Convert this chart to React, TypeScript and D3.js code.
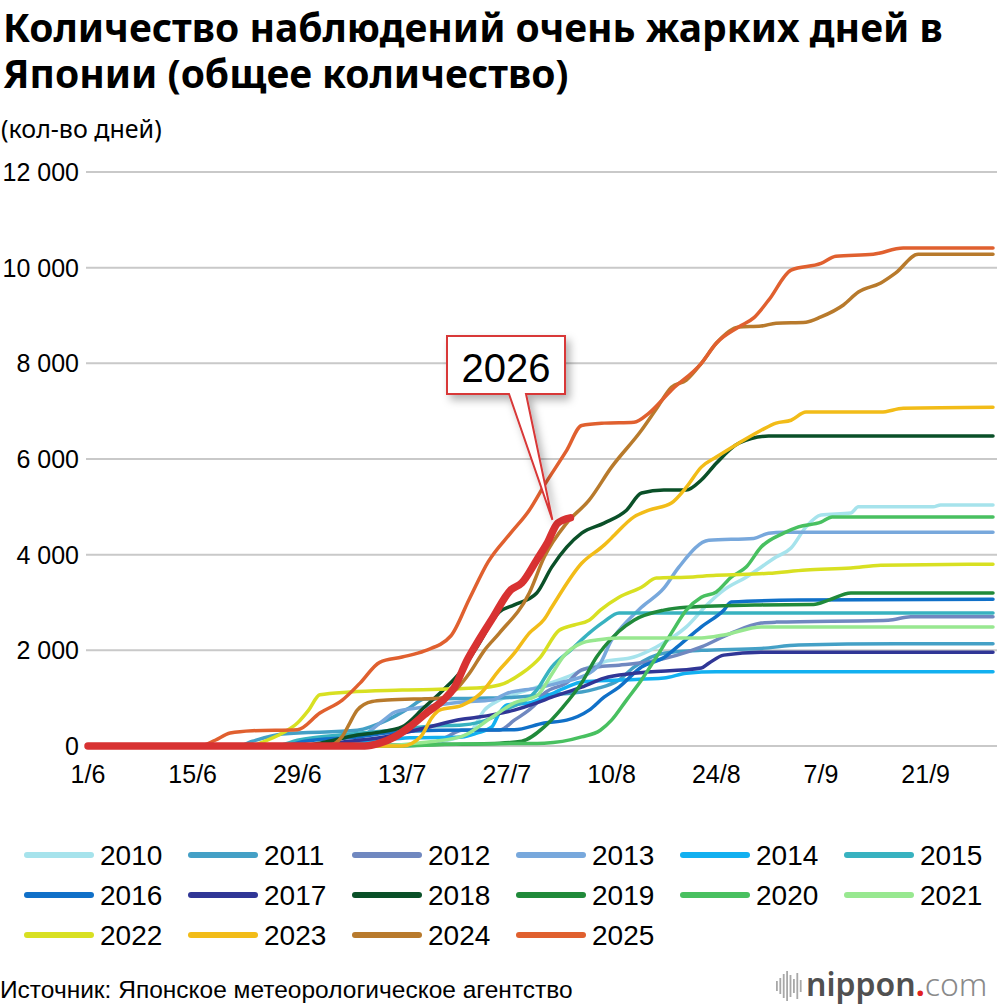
import React, { useRef, useEffect } from "react";
import * as d3 from "d3";

// [days since 1 June, cumulative number of observations]
type Pt = [number, number];

const years = ["2010", "2011", "2012", "2013", "2014", "2015", "2016", "2017", "2018", "2019", "2020", "2021", "2022", "2023", "2024", "2025"];

const s2010: Pt[] = [[0, 0], [42, 0], [48, 120], [51, 270], [53, 750], [55, 960], [58, 1130], [61, 1275], [64, 1440], [67, 1650], [69, 1760], [73, 1860], [76, 2070], [80, 2490], [83, 2990], [85, 3260], [88, 3530], [92, 3950], [94, 4140], [96, 4580], [98, 4830], [102, 4870], [103, 5000], [113, 5000], [114, 5040], [121, 5040]];
const s2011: Pt[] = [[0, 0], [20, 0], [22, 100], [26, 250], [36, 330], [40, 540], [43, 800], [45, 980], [52, 1000], [57, 1020], [61, 1070], [66, 1130], [68, 1200], [71, 1380], [73, 1650], [77, 1940], [82, 2000], [90, 2040], [95, 2110], [108, 2140], [121, 2140]];
const s2012: Pt[] = [[0, 0], [42, 0], [46, 60], [48, 190], [50, 330], [55, 330], [57, 540], [60, 900], [61, 1100], [64, 1320], [66, 1590], [68, 1650], [71, 1690], [75, 1760], [82, 2070], [86, 2360], [90, 2570], [92, 2590], [107, 2630], [110, 2700], [121, 2700]];
const s2013: Pt[] = [[0, 0], [34, 0], [36, 120], [38, 350], [40, 600], [41, 710], [45, 815], [50, 920], [54, 960], [56, 1100], [60, 1210], [63, 1320], [67, 1520], [68.5, 1730], [70, 2215], [71, 2420], [74, 2900], [77, 3300], [79, 3740], [83, 4300], [89, 4340], [91, 4450], [93, 4470], [121, 4470]];
const s2014: Pt[] = [[0, 0], [30, 0], [38, 100], [43, 170], [50, 190], [52, 270], [54, 400], [55, 690], [56, 860], [59, 900], [61, 1020], [64, 1230], [66, 1340], [71, 1380], [77, 1420], [80, 1520], [84, 1550], [121, 1550]];
const s2015: Pt[] = [[0, 0], [25, 0], [28, 120], [35, 250], [42, 350], [46, 420], [50, 440], [54, 590], [55, 690], [60, 1170], [62, 1650], [64.5, 2000], [67, 2360], [69, 2600], [71, 2780], [121, 2780]];
const s2016: Pt[] = [[0, 0], [26, 0], [29, 100], [36, 190], [41, 290], [47, 330], [57, 340], [61, 480], [64, 540], [67, 750], [69, 1020], [71, 1230], [74, 1650], [77, 1850], [79, 2100], [82, 2490], [85, 2840], [86, 3010], [95, 3050], [121, 3070]];
const s2017: Pt[] = [[0, 0], [28, 0], [35, 100], [40, 200], [45, 375], [50, 560], [52, 600], [57, 750], [60, 900], [62, 1020], [66, 1230], [69, 1420], [73, 1520], [82, 1630], [83, 1730], [85, 1900], [90, 1960], [121, 1960]];
const s2018: Pt[] = [[0, 0], [28, 0], [31, 60], [36, 230], [39, 290], [42, 400], [45, 815], [47.5, 1170], [50, 1590], [52, 2070], [55, 2800], [57, 2950], [60, 3200], [62, 3740], [66, 4450], [69, 4660], [72, 4930], [74, 5290], [77, 5350], [80, 5350], [82, 5560], [84, 5910], [87, 6330], [91, 6480], [121, 6480]];
const s2019: Pt[] = [[0, 0], [30, 0], [45, 30], [55, 60], [58, 100], [61, 400], [63.5, 815], [66, 1320], [68, 1860], [69, 2070], [71, 2400], [73, 2630], [77, 2840], [80, 2900], [90, 2950], [97, 2960], [99, 3050], [102, 3200], [121, 3200]];
const s2020: Pt[] = [[0, 0], [40, 0], [50, 40], [61, 60], [66, 190], [68.5, 330], [70, 540], [72, 960], [74, 1380], [76, 1860], [78, 2360], [80, 2840], [82, 3110], [84, 3220], [86, 3530], [88, 3740], [90, 4160], [93, 4450], [95, 4580], [98, 4680], [99.5, 4790], [121, 4790]];
const s2021: Pt[] = [[0, 0], [38, 0], [44, 60], [50, 200], [54, 600], [57, 900], [60, 1050], [62, 1500], [63.5, 1860], [66, 2150], [68, 2215], [71, 2260], [82, 2260], [85, 2320], [90, 2490], [121, 2490]];
const s2022: Pt[] = [[0, 0], [22, 0], [23, 60], [26, 270], [28, 480], [29.5, 750], [31, 1070], [35, 1130], [42, 1170], [52, 1210], [55, 1275], [58, 1520], [60.5, 1860], [63, 2420], [65, 2530], [67, 2630], [68.5, 2840], [71, 3110], [74, 3320], [76, 3510], [80, 3530], [84, 3570], [91, 3610], [96, 3680], [102, 3720], [106, 3780], [121, 3800]];
const s2023: Pt[] = [[0, 0], [42, 0], [44.5, 200], [46, 600], [47, 750], [50, 850], [52.5, 1100], [55, 1590], [57, 1940], [59, 2360], [61, 2650], [62, 2900], [66, 3820], [69, 4200], [70, 4350], [73, 4790], [75, 4930], [78, 5080], [80, 5410], [82, 5830], [84, 6040], [87, 6330], [90, 6600], [92, 6750], [94, 6810], [96, 6980], [106, 6980], [109, 7060], [121, 7080]];
const s2024: Pt[] = [[0, 0], [32, 0], [34, 200], [35, 480], [36, 750], [38, 930], [40, 960], [47, 1000], [49, 1150], [51, 1520], [53, 2000], [55, 2360], [59, 3200], [61, 3950], [64, 4660], [67, 5140], [70, 5830], [74, 6600], [76, 7050], [78, 7500], [80, 7650], [82, 8000], [84, 8420], [87, 8760], [90, 8780], [92, 8840], [96, 8860], [98, 8970], [101, 9220], [103, 9490], [106, 9680], [108, 9890], [111, 10280], [121, 10280]];
const s2025: Pt[] = [[0, 0], [15, 0], [17, 120], [19, 270], [22, 320], [28, 340], [31, 690], [34, 960], [36.4, 1320], [39, 1750], [42, 1860], [45, 1990], [48.5, 2300], [51, 3080], [53.5, 3850], [56.5, 4450], [59, 4930], [61, 5450], [64, 6180], [66, 6700], [69, 6750], [73, 6770], [75, 6960], [78, 7440], [82, 8000], [84, 8420], [87, 8760], [89, 8950], [91, 9320], [94, 9950], [98, 10090], [100, 10240], [105, 10280], [109, 10410], [121, 10410]];
const s2026: Pt[] = [[0, 0], [37, 0], [39, 60], [41, 190], [43, 400], [45.4, 710], [47.5, 960], [49, 1230], [50.7, 1800], [52, 2150], [54, 2650], [56.5, 3260], [58, 3410], [60, 3890], [61.4, 4240], [62.8, 4660], [64.5, 4770]];

const seriesData = [s2010, s2011, s2012, s2013, s2014, s2015, s2016, s2017, s2018, s2019, s2020, s2021, s2022, s2023, s2024, s2025];
const seriesColors = ["#a6e3ec", "#44a0c6", "#7088c0", "#78a8dc", "#12b0f0", "#38b2c0", "#1070c8", "#303696", "#0a5028", "#208a3a", "#48c060", "#98e890", "#d8e022", "#f2bc18", "#b87a2c", "#e0602f"];

const xTickDays = [0, 14, 28, 42, 56, 70, 84, 98, 112];
const xTickLabels = ["1/6", "15/6", "29/6", "13/7", "27/7", "10/8", "24/8", "7/9", "21/9"];
const yTicks = [0, 2000, 4000, 6000, 8000, 10000, 12000];

const titleLines = ["Количество наблюдений очень жарких дней в", "Японии (общее количество)"];
const logoBars = [10, 16, 24, 30, 22, 14, 26, 12];

const W = 1000;
const H = 1008;
const sans = "'Liberation Sans', Arial, Helvetica, sans-serif";
const noto = "'Noto Sans', 'Open Sans', sans-serif";

const App: React.FC = () => {
    const svgRef = useRef<SVGSVGElement | null>(null);

    useEffect(() => {
        if (!svgRef.current) return;
        const svg = d3.select(svgRef.current);
        svg.selectAll("*").remove();

        const x = d3.scaleLinear().domain([0, 121]).range([88, 993]);
        const y = d3.scaleLinear().domain([0, 12000]).range([746, 172]);
        const fmt = (v: number) => d3.format(",")(v).replace(/,/g, " ");

        // drop shadow for the callout
        const defs = svg.append("defs");
        const f = defs.append("filter").attr("id", "shadow").attr("x", "-30%").attr("y", "-30%").attr("width", "160%").attr("height", "160%");
        f.append("feDropShadow").attr("dx", 4).attr("dy", 5).attr("stdDeviation", 4).attr("flood-color", "#000").attr("flood-opacity", 0.3);

        // titles
        svg.append("g").selectAll("text").data(titleLines).enter().append("text")
            .attr("x", 3).attr("y", (_, i) => 42 + i * 46)
            .attr("font-family", noto).attr("font-weight", 700).attr("font-size", 39).attr("fill", "#000")
            .text((d) => d);
        svg.append("text").attr("x", 1).attr("y", 138).attr("font-family", noto).attr("font-size", 25).text("(кол-во дней)");

        // grid + y labels
        const grid = svg.append("g");
        grid.selectAll("line").data(yTicks).enter().append("line")
            .attr("x1", 86).attr("x2", 997)
            .attr("y1", (d) => y(d)).attr("y2", (d) => y(d))
            .attr("stroke", "#c9c9c9").attr("stroke-width", 2);
        grid.selectAll("text").data(yTicks).enter().append("text")
            .attr("x", 79).attr("y", (d) => y(d)).attr("dy", "0.36em")
            .attr("text-anchor", "end").attr("font-family", sans).attr("font-size", 25)
            .text((d) => fmt(d));

        // x labels
        svg.append("g").selectAll("text").data(xTickDays).enter().append("text")
            .attr("x", (d) => x(d)).attr("y", 783)
            .attr("text-anchor", "middle").attr("font-family", sans).attr("font-size", 25)
            .text((_, i) => xTickLabels[i]);

        const line = d3.line<Pt>().x((d) => x(d[0])).y((d) => y(d[1])).curve(d3.curveMonotoneX);

        // series 2010–2025
        svg.append("g").selectAll("path").data(seriesData).enter().append("path")
            .attr("d", (d) => line(d))
            .attr("fill", "none")
            .attr("stroke", (_, i) => seriesColors[i])
            .attr("stroke-width", 3.5)
            .attr("stroke-linejoin", "round")
            .attr("stroke-linecap", "round");

        // 2026
        svg.append("path").attr("d", line(s2026)).attr("fill", "none")
            .attr("stroke", "#d83232").attr("stroke-width", 7.5)
            .attr("stroke-linejoin", "round").attr("stroke-linecap", "round");

        // callout
        const last = s2026[s2026.length - 1];
        const tipX = x(last[0]) - 18;
        const tipY = y(last[1]) + 2;
        const bx0 = 447, bx1 = 565, by0 = 336, by1 = 394;
        const callout = d3.path();
        callout.moveTo(bx0, by0);
        callout.lineTo(bx1, by0);
        callout.lineTo(bx1, by1);
        callout.lineTo(526, by1);
        callout.lineTo(tipX, tipY);
        callout.lineTo(509, by1);
        callout.lineTo(bx0, by1);
        callout.closePath();
        svg.append("path").attr("d", callout.toString())
            .attr("fill", "#fff").attr("stroke", "#d83838").attr("stroke-width", 2)
            .attr("stroke-linejoin", "miter").attr("filter", "url(#shadow)");
        svg.append("text").attr("x", (bx0 + bx1) / 2).attr("y", 382)
            .attr("text-anchor", "middle").attr("font-family", sans).attr("font-size", 40)
            .text("2026");

        // legend
        const legend = svg.append("g");
        years.forEach((yr, i) => {
            const lx = 25 + (i % 6) * 164;
            const ly = 855 + Math.floor(i / 6) * 40;
            legend.append("line").attr("x1", lx + 2).attr("x2", lx + 66).attr("y1", ly).attr("y2", ly)
                .attr("stroke", seriesColors[i]).attr("stroke-width", 6).attr("stroke-linecap", "round");
            legend.append("text").attr("x", lx + 75).attr("y", ly).attr("dy", "0.36em")
                .attr("font-family", sans).attr("font-size", 28).text(yr);
        });

        // source
        svg.append("text").attr("x", 0).attr("y", 998).attr("font-family", sans).attr("font-size", 24.5)
            .text("Источник: Японское метеорологическое агентство");

        // nippon.com logo
        const logo = svg.append("g");
        logo.selectAll("rect").data(logoBars).enter().append("rect")
            .attr("x", (_, i) => 776 + i * 3.4).attr("width", 1.8)
            .attr("y", (d) => 986 - d / 2).attr("height", (d) => d)
            .attr("fill", "#a8a8a8");
        const lt = logo.append("text").attr("x", 806).attr("y", 996).attr("font-family", noto).attr("font-size", 32);
        lt.append("tspan").attr("fill", "#505050").attr("font-weight", 600).text("nippon");
        lt.append("tspan").attr("fill", "#e02020").attr("font-weight", 700).text(".");
        lt.append("tspan").attr("fill", "#8a8a8a").attr("font-weight", 300).text("com");
    }, []);

    return (
        <svg
            ref={svgRef}
            width={W}
            height={H}
            style={{ position: "absolute", left: 0, top: 0, background: "#fff" }}
        />
    );
};

export default App;
